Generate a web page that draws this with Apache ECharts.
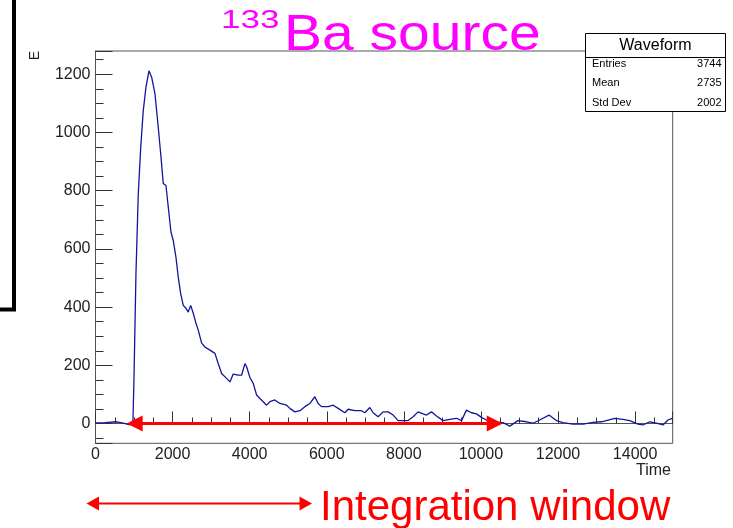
<!DOCTYPE html>
<html>
<head>
<meta charset="utf-8">
<script src="https://cdn.jsdelivr.net/npm/echarts@6/dist/echarts.min.js"></script>
<style>
html, body { margin: 0; padding: 0; background: #fff; }
#chart { width: 733px; height: 528px; }
</style>
</head>
<body>
<div id="chart"></div>
<script>
// waveform samples (time, E)
var timeValues = [0, 246, 550, 721, 895, 946, 972, 998, 1050, 1110, 1172, 1239, 1309, 1387, 1457, 1543,
  1628, 1691, 1758, 1828, 1888, 1958, 2017, 2087, 2147, 2209, 2277, 2347, 2406, 2469, 2536, 2606,
  2666, 2754, 2839, 2969, 3099, 3184, 3272, 3402, 3488, 3573, 3703, 3791, 3877, 3921, 4006, 4092,
  4180, 4265, 4351, 4439, 4525, 4654, 4784, 4958, 5044, 5173, 5303, 5433, 5562, 5692, 5777, 5865,
  6037, 6166, 6296, 6470, 6555, 6729, 6903, 6988, 7118, 7203, 7333, 7463, 7592, 7722, 7852, 8111,
  8241, 8370, 8500, 8588, 8718, 8847, 9018, 9192, 9366, 9496, 9625, 9755, 9885, 10014, 10144, 10359,
  10574, 10748, 10963, 11181, 11352, 11526, 11767, 11959, 12130, 12389, 12649, 12908, 13126, 13255,
  13471, 13686, 13860, 14075, 14205, 14378, 14552, 14723, 14853, 14967]
var energyValues = [2, 3, 6, 1, -5, -5, 10, 150, 516, 790, 945, 1075, 1155, 1212, 1190, 1133,
  1018, 928, 825, 818, 744, 658, 629, 572, 503, 447, 406, 396, 383, 406, 379, 345,
  321, 276, 263, 252, 241, 206, 172, 155, 143, 170, 166, 166, 206, 195, 158, 138,
  98, 86, 75, 63, 75, 81, 69, 63, 52, 40, 44, 58, 69, 92, 69, 58,
  58, 63, 52, 37, 49, 44, 44, 37, 55, 37, 23, 40, 40, 29, 10, 10,
  23, 40, 33, 29, 40, 26, 10, 14, 18, 10, 46, 37, 33, 21, 12, 5,
  3, -9, 10, 6, 1, 12, 29, 10, 3, -2, -2, 4, 6, 10,
  18, 14, 10, -2, -5, 6, 1, -5, 12, 18]

var xRange = [0, 14976]
var yRange = [-68, 1280]
var windowRange = [1016, 10359]   // red arrow (centres of heads)

var statsLabels = ['Entries', 'Mean', 'Std Dev']
var statsValues = ['3744', '2735', '2002']

var FONT = '"Liberation Sans", Arial, sans-serif'

var seriesData = []
for (var i = 0; i < timeValues.length; i++) {
  seriesData.push([timeValues[i], energyValues[i]])
}

var myChart = echarts.init(document.getElementById('chart'))

var statsGraphics = [{
  type: 'rect',
  shape: { x: 585.5, y: 33.5, width: 140, height: 78 },
  style: { fill: '#fff', stroke: '#000', lineWidth: 1 },
  z: 10
}, {
  type: 'line',
  shape: { x1: 585.5, y1: 57.5, x2: 725.5, y2: 57.5 },
  style: { stroke: '#000', lineWidth: 1 },
  z: 11
}, {
  type: 'text',
  x: 655.5, y: 45.5,
  style: { text: 'Waveform', font: '16px ' + FONT, fill: '#000', align: 'center', verticalAlign: 'middle' },
  z: 11
}]
for (var j = 0; j < statsLabels.length; j++) {
  statsGraphics.push({
    type: 'text', x: 592, y: 63.5 + j * 19.5, z: 11,
    style: { text: statsLabels[j], font: '11px ' + FONT, fill: '#000', align: 'left', verticalAlign: 'middle' }
  })
  statsGraphics.push({
    type: 'text', x: 721.5, y: 63.5 + j * 19.5, z: 11,
    style: { text: statsValues[j], font: '11px ' + FONT, fill: '#000', align: 'right', verticalAlign: 'middle' }
  })
}

var option = {
  animation: false,
  backgroundColor: '#fff',
  grid: {
    left: 95.5, top: 51, right: 60.3, bottom: 84.7,
    show: true, borderColor: '#555', borderWidth: 1, backgroundColor: 'transparent'
  },
  xAxis: {
    type: 'value',
    min: xRange[0], max: xRange[1],
    minInterval: 2000, maxInterval: 2000, splitNumber: 7,
    axisLine: { lineStyle: { color: '#555' } },
    axisTick: { inside: true, length: 12, lineStyle: { color: '#333' } },
    minorTick: { show: true, splitNumber: 4, length: 6, lineStyle: { color: '#333' } },
    axisLabel: {
      fontSize: 16, fontFamily: FONT, color: '#222', margin: 3,
      formatter: function (v) { return v % 2000 === 0 ? String(v) : '' }
    },
    splitLine: { show: false }
  },
  yAxis: {
    type: 'value',
    min: yRange[0], max: yRange[1],
    minInterval: 200, maxInterval: 200, splitNumber: 6,
    axisLine: { show: true, lineStyle: { color: '#555' } },
    axisTick: { show: true, inside: true, length: 17, lineStyle: { color: '#333' } },
    minorTick: { show: true, splitNumber: 4, length: 8, lineStyle: { color: '#333' } },
    axisLabel: {
      fontSize: 16, fontFamily: FONT, color: '#222', margin: 5,
      formatter: function (v) { return v % 200 === 0 ? String(v) : '' }
    },
    splitLine: { show: false }
  },
  series: [{
    type: 'line',
    data: seriesData,
    showSymbol: false,
    symbol: 'none',
    lineStyle: { color: '#14149c', width: 1.3 },
    markLine: {
      silent: true,
      symbol: ['triangle', 'triangle'],
      symbolSize: [16, 16],
      lineStyle: { color: '#ff0000', width: 3, type: 'solid' },
      label: { show: false },
      data: [[{ coord: [windowRange[0], 0] }, { coord: [windowRange[1], 0] }]]
    }
  }],
  graphic: [{
    // black bracket at the left edge
    type: 'polyline',
    shape: { points: [[14, 0], [14, 309.5], [0, 309.5]] },
    style: { stroke: '#000', lineWidth: 4, fill: null }
  }, {
    type: 'text', x: 221, y: 21, scaleX: 1.4,
    style: { text: '133', font: '25px ' + FONT, fill: '#ff00ff', align: 'left', verticalAlign: 'middle' },
    z: 12
  }, {
    type: 'text', x: 284, y: 36, scaleX: 1.14,
    style: { text: 'Ba source', font: '50px ' + FONT, fill: '#ff00ff', align: 'left', verticalAlign: 'middle' },
    z: 12
  }, {
    type: 'text', x: 35, y: 55.5, rotation: Math.PI / 2,
    style: { text: 'E', font: '14px ' + FONT, fill: '#222', align: 'center', verticalAlign: 'middle' }
  }, {
    type: 'text', x: 671, y: 471,
    style: { text: 'Time', font: '16px ' + FONT, fill: '#222', align: 'right', verticalAlign: 'middle' }
  }, {
    // lower integration-window arrow
    type: 'group',
    children: [{
      type: 'line',
      shape: { x1: 96, y1: 503.5, x2: 302, y2: 503.5 },
      style: { stroke: '#ff0000', lineWidth: 2 }
    }, {
      type: 'polygon',
      shape: { points: [[86.5, 503.5], [99, 496.5], [99, 510.5]] },
      style: { fill: '#ff0000' }
    }, {
      type: 'polygon',
      shape: { points: [[312, 503.5], [299.5, 496.5], [299.5, 510.5]] },
      style: { fill: '#ff0000' }
    }]
  }, {
    type: 'text', x: 320, y: 508,
    style: { text: 'Integration window', font: '42px ' + FONT, fill: '#ff0000', align: 'left', verticalAlign: 'middle' }
  }].concat(statsGraphics)
}

myChart.setOption(option)
</script>
</body>
</html>
